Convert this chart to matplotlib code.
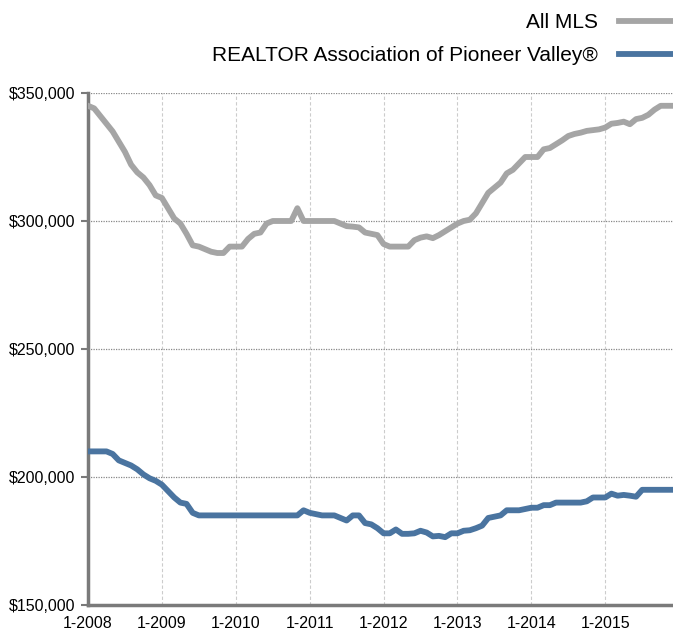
import numpy as np
import matplotlib
matplotlib.use('Agg')
import matplotlib.pyplot as plt
from matplotlib.ticker import FuncFormatter

plt.rcParams['font.family'] = ['Liberation Sans', 'DejaVu Sans']

# Monthly median prices, 1-2008 .. 12-2015
all_mls = [345000, 344000, 341000, 338000, 335000, 331000, 327000, 322000, 319000, 317000,
           314000, 310000, 309000, 305000, 301000, 299000, 295000, 290500, 290000, 289000,
           288000, 287500, 287500, 290000, 290000, 290000, 293000, 295000, 295500, 299000,
           300000, 300000, 300000, 300000, 305000, 300000, 300000, 300000, 300000, 300000,
           300000, 299000, 298000, 297800, 297500, 295500, 295000, 294500, 291000, 290000,
           290000, 290000, 290000, 292500, 293500, 294000, 293300, 294500, 296000, 297500,
           299000, 300000, 300500, 303000, 307000, 311000, 313000, 315000, 318600, 320000,
           322500, 325000, 325000, 325000, 328000, 328500, 330000, 331500, 333200, 334000,
           334500, 335200, 335500, 335800, 336500, 338000, 338300, 338800, 337800, 339800,
           340300, 341500, 343500, 345000, 345000, 345000]
pioneer = [210000, 210000, 210000, 210000, 209000, 206500, 205500, 204500, 203000, 201000,
           199500, 198500, 197000, 194500, 192000, 190000, 189500, 186000, 185000, 185000,
           185000, 185000, 185000, 185000, 185000, 185000, 185000, 185000, 185000, 185000,
           185000, 185000, 185000, 185000, 185000, 187000, 186000, 185500, 185000, 185000,
           185000, 184000, 183000, 185000, 185000, 182000, 181500, 180000, 178000, 178000,
           179500, 177800, 177800, 178000, 179000, 178300, 176800, 177000, 176500, 178000,
           178000, 179000, 179200, 180000, 181000, 184000, 184500, 185000, 187000, 187000,
           187000, 187500, 188000, 188000, 189000, 189000, 190000, 190000, 190000, 190000,
           190000, 190500, 192000, 192000, 192000, 193500, 192700, 193000, 192700, 192300,
           195000, 195000, 195000, 195000, 195000, 195000]
years = ['1-2008', '1-2009', '1-2010', '1-2011', '1-2012', '1-2013', '1-2014', '1-2015']

months = np.arange(len(all_mls))

fig = plt.figure(figsize=(6.73, 6.33), dpi=100)
ax = fig.add_axes([88 / 673, 1 - 605 / 633, 1 - 88 / 673, (605 - 93) / 633])

l1, = ax.plot(months, all_mls, color='#a5a5a5', lw=4.2, solid_joinstyle='round', label='All MLS', zorder=3)
l2, = ax.plot(months, pioneer, color='#4a74a0', lw=4.2, solid_joinstyle='round',
              label='REALTOR Association of Pioneer Valley®', zorder=3)

ax.set_xlim(0, 95)
ax.set_ylim(150000, 350000)
ax.set_yticks([150000, 200000, 250000, 300000, 350000])
ax.yaxis.set_major_formatter(FuncFormatter(lambda v, p: '${:,.0f}'.format(v)))
ax.set_xticks(np.arange(0, 96, 12))
ax.set_xticklabels(years)

ax.grid(axis='y', color='#888888', linestyle=(0, (1, 1)), lw=0.9)
ax.grid(axis='x', color='#cccccc', linestyle=(0, (3, 2)), lw=0.8)
ax.set_axisbelow(True)

for s in ['top', 'right']:
    ax.spines[s].set_visible(False)
for s in ['left', 'bottom']:
    ax.spines[s].set_color('#7a7a7a')
    ax.spines[s].set_linewidth(2.5)

ax.tick_params(axis='y', length=5, width=1.5, color='#7a7a7a', labelsize=11.5, pad=4)
ax.tick_params(axis='x', length=0, labelsize=11.5, pad=8)

fig.legend(handles=[l1, l2], loc='upper right', bbox_to_anchor=(1.068, 1.009),
           frameon=False, markerfirst=False, fontsize=15, handlelength=3.9,
           labelspacing=0.68, handletextpad=1.0)

fig.savefig('out.png', dpi=100)
